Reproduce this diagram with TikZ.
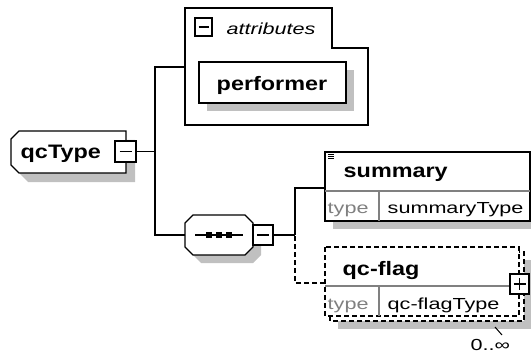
\documentclass[tikz,border=0pt]{standalone}
\usepackage{fontspec}
\setmainfont{Liberation Sans}
\newfontfamily\bwide[FakeStretch=1.2]{Liberation Sans}
\newfontfamily\rwide[FakeStretch=1.35]{Liberation Sans}
\definecolor{shadowgray}{RGB}{192,192,192}
\definecolor{typegray}{RGB}{128,128,128}
\begin{document}
\begin{tikzpicture}[x=1pt,y=-1pt,line width=1.4pt,
  shadowfill/.style={fill=shadowgray,draw=none},
  shapebox/.style={draw=black,fill=white,line width=1.4pt},
  dashbox/.style={draw=black,fill=white,line width=1.3pt,dash pattern=on 5pt off 3pt},
  pmbox/.style={draw=black,fill=white,line width=1.4pt,minimum width=20pt,minimum height=20pt,inner sep=0pt},
  btext/.style={inner sep=0pt,font=\bwide\bfseries\fontsize{19.5}{22}\selectfont},
  rtext/.style={inner sep=0pt,font=\rwide\fontsize{16}{19}\selectfont},
  itext/.style={inner sep=0pt,font=\rwide\itshape\fontsize{16}{19}\selectfont},
  gtext/.style={inner sep=0pt,font=\rwide\fontsize{16}{19}\selectfont,text=typegray},
  conn/.style={draw=black,line width=1.4pt},
  dconn/.style={draw=black,line width=1.4pt,dash pattern=on 5pt off 3pt},
  divider/.style={draw=typegray,line width=1.2pt}]
\useasboundingbox[fill=white] (0,0) rectangle (531,353);

% ---------- qcType ----------
\fill[shadowfill] (28,140) -- (135,140) -- (135,182) -- (28,182) -- (20,174) -- (20,148) -- cycle;
\draw[shapebox] (19,131) -- (126,131) -- (126,173) -- (19,173) -- (11,165) -- (11,139) -- cycle;
\node[btext,anchor=base west] (qctxt) at (20,159) {qcType};
\node[pmbox,minimum width=21pt,minimum height=21pt] (qcm) at (125.5,151.5) {};
\draw (qcm.center) ++(-6,0) -- ++(12,0);

% ---------- attributes ----------
\draw[shapebox] (185,8) -- (332,8) -- (332,48) -- (368,48) -- (368,125) -- (185,125) -- cycle;
\coordinate (attrin) at (185,67);
\node[pmbox,minimum width=17pt,minimum height=18pt] (attm) at (203.5,27) {};
\draw (attm.center) ++(-5,0) -- ++(10,0);
\node[itext,anchor=base west] (atttxt) at (226,35) {attributes};
\fill[shadowfill] (207,70) rectangle (354,111);
\node[draw=black,fill=white,line width=1.4pt,minimum width=147pt,minimum height=41pt,inner sep=0pt] (perf) at (272.5,82.5) {};
\node[btext,anchor=base] at (272,91) {performer};

% ---------- sequence ----------
\fill[shadowfill] (201,223) -- (253,223) -- (261,231) -- (261,255) -- (253,263) -- (201,263) -- (193,255) -- (193,231) -- cycle;
\draw[shapebox] (193,215) -- (245,215) -- (253,223) -- (253,247) -- (245,255) -- (193,255) -- (185,247) -- (185,223) -- cycle;
\coordinate (seqin) at (185,235);
\draw (195,235) -- (243,235);
\foreach \xx in {209,219,229} \fill (\xx-3,232) rectangle (\xx+3,238);
\node[pmbox] (seqm) at (263,235) {};
\draw (seqm.center) ++(-6,0) -- ++(12,0);

% ---------- summary ----------
\fill[shadowfill] (333,160) rectangle (538,229);
\draw[shapebox] (325,152) rectangle (530,221);
\draw[divider] (325,191) -- (530,191);
\draw[divider] (379,191) -- (379,221);
\draw[line width=0.9pt] (328,154.5) -- (334,154.5) (328,156.5) -- (334,156.5) (328,158.5) -- (334,158.5);
\node[btext,anchor=base west] (sumtxt) at (343,178) {summary};
\node[gtext,anchor=base west] (sumtype) at (327,214) {type};
\node[rtext,anchor=base west] (sumtn) at (387,214) {summaryType};
\coordinate (sumin) at (325,188);

% ---------- qc-flag ----------
\fill[shadowfill] (338,260) rectangle (531,329);
\draw[dashbox] (330,252) rectangle (524,321);
\draw[dashbox] (325,247) rectangle (519,316);
\draw[divider] (325,286) -- (519,286);
\draw[divider] (379,286) -- (379,316);
\node[btext,anchor=base west] (qftxt) at (342,275) {qc-flag};
\node[gtext,anchor=base west] (qftype) at (327,309) {type};
\node[rtext,anchor=base west] (qftn) at (387,309) {qc-flagType};
\node[pmbox,minimum width=19pt,minimum height=20pt] (qfp) at (519.5,284) {};
\draw (qfp.center) ++(-6,0) -- ++(12,0) (qfp.center) ++(0,-6) -- ++(0,12);
\coordinate (qfin) at (325,283);
\coordinate (occtick) at (495,327);
\node[rtext,anchor=base west] (occ) at (470,350) {0..∞};
\draw[line width=1pt] (occtick) -- ++(7,8);

% ---------- connectors ----------
\coordinate (v1) at (155,151.5);
\coordinate (v2) at (295,235);
\draw[conn] (qcm.east) -- (v1);
\draw[conn] (attrin) -| (v1);
\draw[conn] (seqin) -| (v1);
\draw[conn] (seqm.east) -- (v2);
\draw[conn] (sumin) -| (v2);
\draw[dconn] (qfin) -| (v2);
\end{tikzpicture}
\end{document}
